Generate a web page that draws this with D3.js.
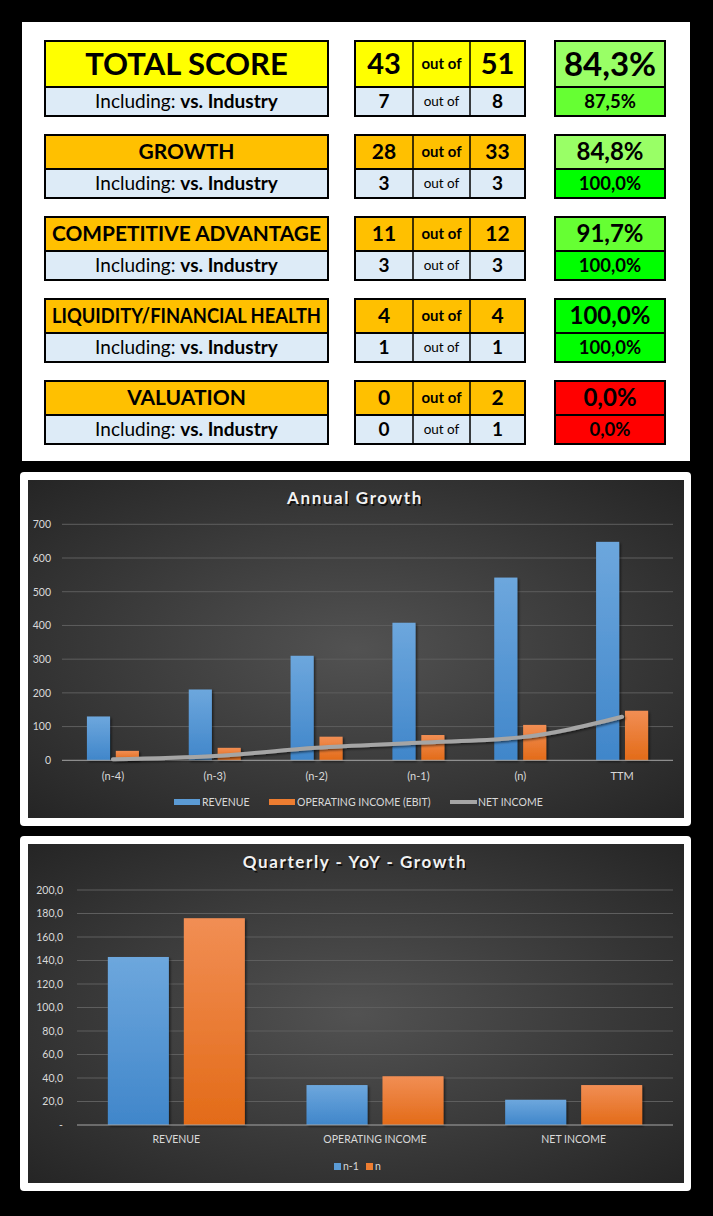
<!DOCTYPE html>
<html><head><meta charset="utf-8">
<script src="https://cdn.jsdelivr.net/npm/d3@7"></script>
<style>html,body{margin:0;padding:0;background:#000;}svg{display:block;}</style>
</head><body>
<script>
// ---------- DATA ----------
const scoreCategories = ["TOTAL SCORE","GROWTH","COMPETITIVE ADVANTAGE","LIQUIDITY/FINANCIAL HEALTH","VALUATION"];
const scores = [43,28,11,4,0];
const maxScores = [51,33,12,4,2];
const industryScores = [7,3,3,1,0];
const industryMax = [8,3,3,1,1];

const annualCategories = ["(n-4)","(n-3)","(n-2)","(n-1)","(n)","TTM"];
const annualRevenue = [130,210,310,408,542,648];
const annualOperatingIncome = [28,37,70,75,105,147];
const annualNetIncome = [3,13,37,52,68,129];
const annualTicks = [0,100,200,300,400,500,600,700];

const quarterCategories = ["REVENUE","OPERATING INCOME","NET INCOME"];
const quarterPrev = [143,34,21.5];
const quarterCurr = [176,41.5,34];
const quarterTicks = [0,20,40,60,80,100,120,140,160,180,200];

// ---------- SETUP ----------
const W = 713, H = 1216;
const svg = d3.select("body").append("svg").attr("width", W).attr("height", H);
svg.append("rect").attr("width", W).attr("height", H).attr("fill", "#000");
const defs = svg.append("defs");

const FONT = "Lato, 'Open Sans', sans-serif";

// ---------- SCORE TABLE ----------
svg.append("rect").attr("x", 22).attr("y", 22).attr("width", 668).attr("height", 439).attr("fill", "#fff");

const rowTop = [41,135,217,299,381];
const headH = [46,34,34,34,34];
const subH = 29;
const headFill = ["#FFFF00","#FFC000","#FFC000","#FFC000","#FFC000"];
const subFill = "#DDEBF7";
const pctFmt = v => d3.format(".1f")(v).replace(".", ",") + "%";
function pctColor(p){ if (p < 50) return "#FF0000"; if (p < 85) return "#99FF66"; if (p < 99) return "#66FF33"; return "#00FF00"; }

const box = {lx:45, lw:283, mx:355, mw:170, c1:58, c2:57, rx:555, rw:110};

function cellText(g, x, y, txt, size, weight){
  return g.append("text").attr("x", x).attr("y", y + size*0.35).attr("text-anchor","middle")
    .attr("font-family", FONT).attr("font-size", size).attr("font-weight", weight).attr("fill","#000").text(txt);
}

scoreCategories.forEach((cat, i) => {
  const g = svg.append("g");
  const t = rowTop[i], hh = headH[i], big = i === 0;
  const p1 = 100*scores[i]/maxScores[i], p2 = 100*industryScores[i]/industryMax[i];
  // fills
  g.append("rect").attr("x", box.lx).attr("y", t).attr("width", box.lw).attr("height", hh).attr("fill", headFill[i]);
  g.append("rect").attr("x", box.lx).attr("y", t+hh).attr("width", box.lw).attr("height", subH).attr("fill", subFill);
  g.append("rect").attr("x", box.mx).attr("y", t).attr("width", box.mw).attr("height", hh).attr("fill", headFill[i]);
  g.append("rect").attr("x", box.mx).attr("y", t+hh).attr("width", box.mw).attr("height", subH).attr("fill", subFill);
  g.append("rect").attr("x", box.rx).attr("y", t).attr("width", box.rw).attr("height", hh).attr("fill", pctColor(p1));
  g.append("rect").attr("x", box.rx).attr("y", t+hh).attr("width", box.rw).attr("height", subH).attr("fill", pctColor(p2));
  // borders
  const addRect = (x,y,w,h) => g.append("rect").attr("x",x).attr("y",y).attr("width",w).attr("height",h)
    .attr("stroke","#000").attr("stroke-width",2).attr("fill","none");
  addRect(box.lx, t, box.lw, hh + subH);
  addRect(box.mx, t, box.mw, hh + subH);
  addRect(box.rx, t, box.rw, hh + subH);
  [[box.lx, box.lw],[box.mx, box.mw],[box.rx, box.rw]].forEach(([x0,w]) =>
    g.append("line").attr("x1", x0).attr("x2", x0+w).attr("y1", t+hh).attr("y2", t+hh).attr("stroke","#000").attr("stroke-width",2));
  [box.mx+box.c1, box.mx+box.c1+box.c2].forEach(x => g.append("line").attr("x1",x).attr("x2",x).attr("y1",t).attr("y2",t+hh+subH).attr("stroke","#000").attr("stroke-width",1.5));

  const cy = t + hh/2, sy = t + hh + subH/2;
  // label
  const lbl = cellText(g, box.lx + box.lw/2, cy, cat, big ? 31 : 21, 700);
  const maxW = box.lw - 14;
  if (lbl.node().getComputedTextLength() > maxW) lbl.attr("textLength", maxW).attr("lengthAdjust","spacingAndGlyphs");
  // sub label
  const st = g.append("text").attr("x", box.lx + box.lw/2).attr("y", sy + 19*0.35).attr("text-anchor","middle")
    .attr("font-family", FONT).attr("font-size", 19).attr("fill","#000");
  st.append("tspan").attr("font-weight",400).text("Including: ");
  st.append("tspan").attr("font-weight",700).text("vs. Industry");
  // numbers
  const m1 = box.mx + box.c1/2, m2 = box.mx + box.c1 + box.c2/2, m3 = box.mx + box.c1 + box.c2 + (box.mw - box.c1 - box.c2)/2;
  cellText(g, m1, cy, scores[i], big ? 29 : 21, 700);
  cellText(g, m2, cy, "out of", 15, 700);
  cellText(g, m3, cy, maxScores[i], big ? 29 : 21, 700);
  cellText(g, m1, sy, industryScores[i], 19, 700);
  cellText(g, m2, sy, "out of", 13.5, 400);
  cellText(g, m3, sy, industryMax[i], 19, 700);
  cellText(g, box.rx + box.rw/2, cy, pctFmt(p1), big ? 33 : 24, 700);
  cellText(g, box.rx + box.rw/2, sy, pctFmt(p2), 18.5, 700);
});

// ---------- CHART HELPERS ----------
function gradient(id, top, bottom){
  const lg = defs.append("linearGradient").attr("id", id).attr("x1",0).attr("x2",0).attr("y1",0).attr("y2",1);
  lg.append("stop").attr("offset","0%").attr("stop-color", top);
  lg.append("stop").attr("offset","100%").attr("stop-color", bottom);
}
gradient("gBlue", "#6DA7DD", "#4086CA");
gradient("gOrange", "#F18E54", "#E36B18");
const rg = defs.append("radialGradient").attr("id","gBg").attr("cx","50%").attr("cy","50%").attr("r","75%");
rg.append("stop").attr("offset","0%").attr("stop-color","#525252");
rg.append("stop").attr("offset","100%").attr("stop-color","#222222");
const sh = defs.append("filter").attr("id","shadow").attr("x","-20%").attr("y","-20%").attr("width","140%").attr("height","140%");
sh.append("feDropShadow").attr("dx",1.5).attr("dy",1.5).attr("stdDeviation",1.2).attr("flood-color","#000").attr("flood-opacity",0.55);

function frame(y0, y1){
  svg.append("rect").attr("x",20).attr("y",y0).attr("width",671).attr("height",y1-y0).attr("rx",4).attr("fill","#fff");
  svg.append("rect").attr("x",28).attr("y",y0+8).attr("width",656).attr("height",y1-y0-16).attr("fill","url(#gBg)");
}
function title(txt, y){
  svg.append("text").attr("x",356.5).attr("y",y+1.5).attr("text-anchor","middle").attr("font-family",FONT)
    .attr("font-size",17).attr("font-weight",700).attr("letter-spacing",1.6).attr("fill","#000").attr("opacity",0.7).text(txt);
  svg.append("text").attr("x",355).attr("y",y).attr("text-anchor","middle").attr("font-family",FONT)
    .attr("font-size",17).attr("font-weight",700).attr("letter-spacing",1.6).attr("fill","#F2F2F2").text(txt);
}
const labelColor = "#D9D9D9";

// ---------- ANNUAL GROWTH ----------
frame(472, 826);
title("Annual Growth", 504);
{
  const y = d3.scaleLinear().domain([0,700]).range([760.3, 524.3]);
  const x = d3.scaleBand().domain(annualCategories).range([62, 673]);
  const x1 = d3.scaleBand().domain(["rev","op"]).range([-26, 26]).paddingInner(0.2);
  const g = svg.append("g");
  g.selectAll(".grid").data(annualTicks.slice(1)).join("line")
    .attr("x1",62).attr("x2",673).attr("y1",d=>y(d)).attr("y2",d=>y(d)).attr("stroke","#5E5E5E").attr("stroke-width",1);
  const ax = g.append("g").attr("transform","translate(51,0)").call(d3.axisLeft(y).tickValues(annualTicks).tickSize(0).tickPadding(0));
  ax.select(".domain").remove();
  ax.selectAll("text").attr("fill",labelColor).attr("font-family",FONT).attr("font-size",10.5);
  const rows = annualCategories.map((c,i)=>({c, rev:annualRevenue[i], op:annualOperatingIncome[i]}));
  g.selectAll(".rev").data(rows).join("rect").attr("x",d=>x(d.c)+x.bandwidth()/2+x1("rev")).attr("width",x1.bandwidth())
    .attr("y",d=>y(d.rev)).attr("height",d=>y(0)-y(d.rev)).attr("fill","url(#gBlue)").attr("filter","url(#shadow)");
  g.selectAll(".op").data(rows).join("rect").attr("x",d=>x(d.c)+x.bandwidth()/2+x1("op")).attr("width",x1.bandwidth())
    .attr("y",d=>y(d.op)).attr("height",d=>y(0)-y(d.op)).attr("fill","url(#gOrange)").attr("filter","url(#shadow)");
  g.append("line").attr("x1",62).attr("x2",673).attr("y1",y(0)).attr("y2",y(0)).attr("stroke","#A6A6A6").attr("stroke-width",1);
  const line = d3.line().x((d,i)=>x(annualCategories[i])+x.bandwidth()/2).y(d=>y(d)).curve(d3.curveMonotoneX);
  g.append("path").datum(annualNetIncome).attr("d",line).attr("fill","none").attr("stroke","#A5A5A5").attr("stroke-width",4)
    .attr("stroke-linecap","round").attr("filter","url(#shadow)");
  const xa = g.append("g").attr("transform",`translate(0,${y(0)})`).call(d3.axisBottom(x).tickSize(0).tickPadding(12));
  xa.select(".domain").remove();
  xa.selectAll("text").attr("fill",labelColor).attr("font-family",FONT).attr("font-size",11);
  // legend
  const leg = [{t:"REVENUE",x:174,f:"#5B9BD5",type:"bar"},{t:"OPERATING INCOME (EBIT)",x:269,f:"#ED7D31",type:"bar"},{t:"NET INCOME",x:450,f:"#A5A5A5",type:"line"}];
  leg.forEach(l=>{
    if (l.type==="bar") g.append("rect").attr("x",l.x).attr("y",799).attr("width",26).attr("height",6).attr("fill",l.f);
    else g.append("line").attr("x1",l.x).attr("x2",l.x+27).attr("y1",802).attr("y2",802).attr("stroke",l.f).attr("stroke-width",4);
    g.append("text").attr("x",l.x+28).attr("y",805.5).attr("font-family",FONT).attr("font-size",10.5).attr("fill",labelColor).text(l.t);
  });
}

// ---------- QUARTERLY ----------
frame(836, 1191);
title("Quarterly - YoY - Growth", 868);
{
  const y = d3.scaleLinear().domain([0,200]).range([1125, 890]);
  const x = d3.scaleBand().domain(quarterCategories).range([77, 673]);
  const x1 = d3.scaleBand().domain(["prev","curr"]).range([-68.5, 68.5]).paddingInner(0.197);
  const g = svg.append("g");
  g.selectAll(".grid").data(quarterTicks.slice(1)).join("line")
    .attr("x1",77).attr("x2",673).attr("y1",d=>y(d)).attr("y2",d=>y(d)).attr("stroke","#5E5E5E").attr("stroke-width",1);
  const ax = g.append("g").attr("transform","translate(63,0)").call(d3.axisLeft(y).tickValues(quarterTicks).tickSize(0).tickPadding(0)
    .tickFormat(d => d === 0 ? "-" : d3.format(".1f")(d).replace(".", ",")));
  ax.select(".domain").remove();
  ax.selectAll("text").attr("fill",labelColor).attr("font-family",FONT).attr("font-size",10.5);
  const rows = quarterCategories.map((c,i)=>({c, prev:quarterPrev[i], curr:quarterCurr[i]}));
  g.selectAll(".prev").data(rows).join("rect").attr("x",d=>x(d.c)+x.bandwidth()/2+x1("prev")).attr("width",x1.bandwidth())
    .attr("y",d=>y(d.prev)).attr("height",d=>y(0)-y(d.prev)).attr("fill","url(#gBlue)").attr("filter","url(#shadow)");
  g.selectAll(".curr").data(rows).join("rect").attr("x",d=>x(d.c)+x.bandwidth()/2+x1("curr")).attr("width",x1.bandwidth())
    .attr("y",d=>y(d.curr)).attr("height",d=>y(0)-y(d.curr)).attr("fill","url(#gOrange)").attr("filter","url(#shadow)");
  g.append("line").attr("x1",77).attr("x2",673).attr("y1",y(0)).attr("y2",y(0)).attr("stroke","#A6A6A6").attr("stroke-width",1);
  const xa = g.append("g").attr("transform",`translate(0,${y(0)})`).call(d3.axisBottom(x).tickSize(0).tickPadding(11));
  xa.select(".domain").remove();
  xa.selectAll("text").attr("fill",labelColor).attr("font-family",FONT).attr("font-size",10.5);
  const leg = [{t:"n-1",x:334,f:"#5B9BD5"},{t:"n",x:366,f:"#ED7D31"}];
  leg.forEach(l=>{
    g.append("rect").attr("x",l.x).attr("y",1163).attr("width",7).attr("height",7).attr("fill",l.f);
    g.append("text").attr("x",l.x+9).attr("y",1170).attr("font-family",FONT).attr("font-size",10.5).attr("fill",labelColor).text(l.t);
  });
}
</script>
</body></html>
